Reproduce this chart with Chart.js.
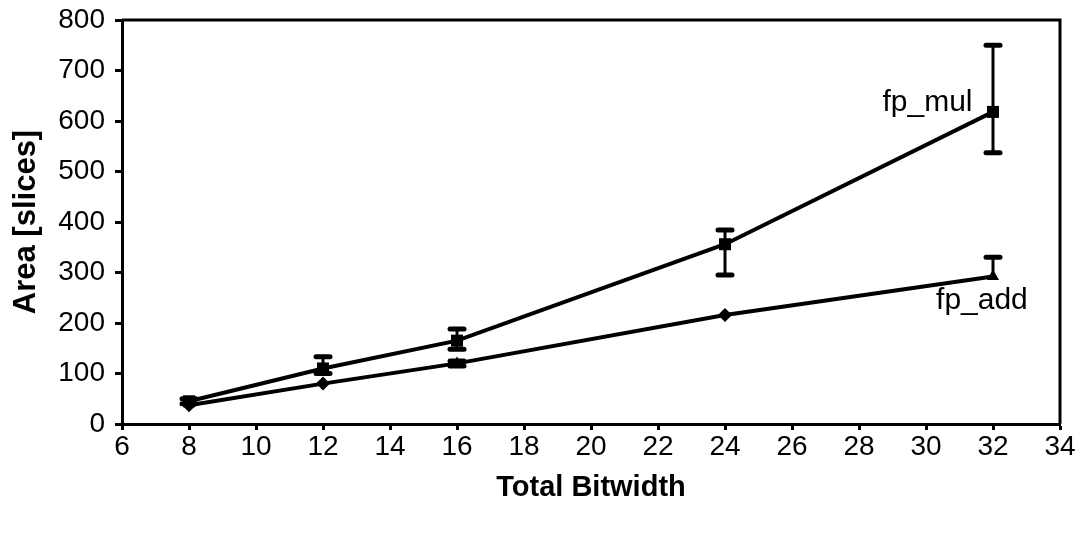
<!DOCTYPE html>
<html>
<head>
<meta charset="utf-8">
<script src="https://cdn.jsdelivr.net/npm/chart.js@4/dist/chart.umd.min.js"></script>
<style>
  html, body { margin: 0; padding: 0; background: #fff; }
  #wrap { width: 1084px; height: 533px; }
</style>
</head>
<body>
<div id="wrap"><canvas id="chart"></canvas></div>
<script>
const bitwidths = [8, 12, 16, 24, 32];

const mulArea = [45, 110, 165, 356, 618];
const mulHigh = [50, 133, 188, 384, 750];
const mulLow = [40, 100, 148, 295, 537];

const addArea = [37, 80, 120, 216, 292];
const addHigh = [null, null, 125, null, 330];
const addLow = [null, null, 115, null, null];
const addMarkers = ["rectRot", "rectRot", "triangle", "rectRot", "triangle"];

const xTicks = [6, 8, 10, 12, 14, 16, 18, 20, 22, 24, 26, 28, 30, 32, 34];
const yTicks = [0, 100, 200, 300, 400, 500, 600, 700, 800];

const font = "'Liberation Sans', Arial, sans-serif";

// error bars, frame and series labels
const extras = {
    id: "extras",
    afterDatasetsDraw(chart) {
        const ctx = chart.ctx;
        const xs = chart.scales.x;
        const ys = chart.scales.y;
        ctx.save();
        ctx.strokeStyle = "#000";
        function bars(values, high, low) {
            bitwidths.forEach(function(b, i) {
                const px = xs.getPixelForValue(b);
                [high[i], low[i]].forEach(function(v) {
                    if (v == null) return;
                    ctx.lineWidth = 3;
                    ctx.lineCap = "butt";
                    ctx.beginPath();
                    ctx.moveTo(px, ys.getPixelForValue(values[i]));
                    ctx.lineTo(px, ys.getPixelForValue(v));
                    ctx.stroke();
                    ctx.lineWidth = 5;
                    ctx.lineCap = "round";
                    ctx.beginPath();
                    ctx.moveTo(px - 7, ys.getPixelForValue(v));
                    ctx.lineTo(px + 7, ys.getPixelForValue(v));
                    ctx.stroke();
                });
            });
        }
        bars(mulArea, mulHigh, mulLow);
        bars(addArea, addHigh, addLow);

        const a = chart.chartArea;
        ctx.lineWidth = 3;
        ctx.lineCap = "butt";
        ctx.beginPath();
        ctx.moveTo(a.left, a.top);
        ctx.lineTo(a.right, a.top);
        ctx.lineTo(a.right, a.bottom);
        ctx.stroke();

        ctx.fillStyle = "#000";
        ctx.font = "30px " + font;
        ctx.textBaseline = "middle";
        ctx.textAlign = "left";
        ctx.fillText("fp_mul", xs.getPixelForValue(28.7), ys.getPixelForValue(636));
        ctx.fillText("fp_add", xs.getPixelForValue(30.3), ys.getPixelForValue(245));
        ctx.restore();
    }
};

new Chart(document.getElementById("chart"), {
    type: "scatter",
    data: {
        datasets: [
            {
                label: "fp_mul",
                data: bitwidths.map((b, i) => ({ x: b, y: mulArea[i] })),
                showLine: true,
                borderColor: "#000",
                backgroundColor: "#000",
                borderWidth: 4,
                pointStyle: "rect",
                pointRadius: 8.5,
                pointBorderWidth: 0
            },
            {
                label: "fp_add",
                data: bitwidths.map((b, i) => ({ x: b, y: addArea[i] })),
                showLine: true,
                borderColor: "#000",
                backgroundColor: "#000",
                borderWidth: 4,
                pointStyle: addMarkers,
                pointRadius: 7,
                pointBorderWidth: 0
            }
        ]
    },
    options: {
        responsive: true,
        maintainAspectRatio: false,
        animation: false,
        layout: { padding: { left: 0, right: 24, top: 0, bottom: 0 } },
        plugins: {
            legend: { display: false },
            tooltip: { enabled: false }
        },
        scales: {
            x: {
                type: "linear",
                min: 6,
                max: 34,
                afterBuildTicks: s => { s.ticks = xTicks.map(v => ({ value: v })); },
                afterFit: s => { s.height = 109; },
                border: { color: "#000", width: 3 },
                grid: { drawOnChartArea: false, drawTicks: true, tickLength: 6, tickColor: "#000", tickWidth: 3 },
                ticks: { color: "#000", font: { family: font, size: 28 }, padding: 0, maxRotation: 0 },
                title: { display: true, text: "Total Bitwidth", color: "#000", font: { family: font, size: 29, weight: "bold" }, padding: { top: 4, bottom: 28 } }
            },
            y: {
                type: "linear",
                min: 0,
                max: 800,
                afterBuildTicks: s => { s.ticks = yTicks.map(v => ({ value: v })); },
                afterFit: s => { s.width = 122; s.paddingTop = 20; },
                border: { color: "#000", width: 3 },
                grid: { drawOnChartArea: false, drawTicks: true, tickLength: 7, tickColor: "#000", tickWidth: 3 },
                ticks: { color: "#000", font: { family: font, size: 28 }, padding: 10 },
                title: { display: true, text: "Area [slices]", color: "#000", font: { family: font, size: 31, weight: "bold" }, padding: { top: 8, bottom: 4 } }
            }
        }
    },
    plugins: [extras]
});
</script>
</body>
</html>
